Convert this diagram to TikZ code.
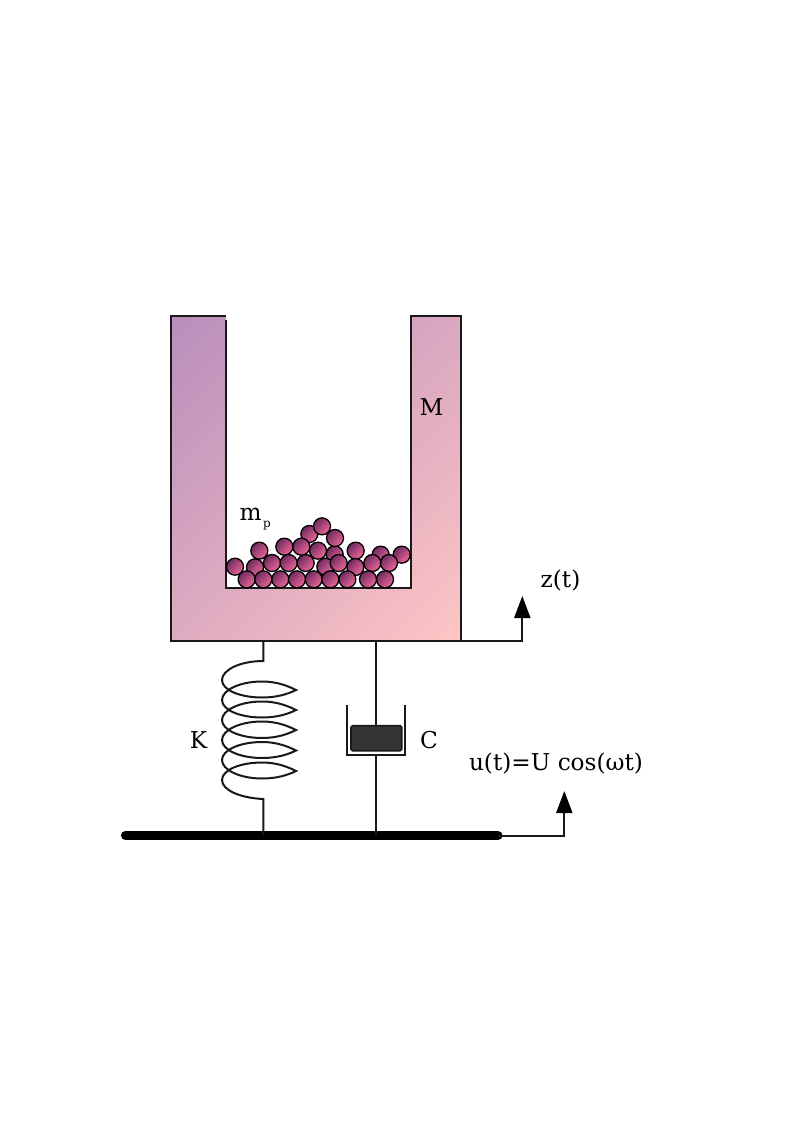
\documentclass[tikz,border=0pt]{standalone}
\usepackage{fontspec}
\setmainfont{DejaVu Serif}
\usetikzlibrary{arrows.meta}
\definecolor{ballA}{HTML}{6E2A5E}
\definecolor{ballB}{HTML}{F0689A}
\definecolor{uA}{HTML}{B88EBB}
\definecolor{uB}{HTML}{FFC5C5}
\definecolor{piston}{HTML}{333333}
\tikzset{
  x=1pt,y=-1pt,
  wire/.style={draw=black!90,line width=2pt},
  lbl/.style={inner sep=0pt,font=\fontsize{23.2pt}{26pt}\selectfont,text=black},
  ball/.style={circle,minimum size=17pt,inner sep=0pt,draw=black,line width=1.3pt,
    top color=ballA,bottom color=ballB,shading angle=45},
  tip/.style={-{Triangle[length=22pt,width=16pt,fill=black,color=black]}}
}
\newcommand{\ballat}[2]{\node[ball] at ({210+#1/3},{500+#2/3}) {};}
\begin{document}
\begin{tikzpicture}
\useasboundingbox (0,0) rectangle (794,1123);
\fill[white] (0,0) rectangle (794,1123);
% container
\begin{scope}
\clip (171,316) -- (226,316) -- (226,588) -- (411,588) -- (411,316) -- (461,316) -- (461,641) -- (171,641) -- cycle;
\node[minimum size=436pt,inner sep=0pt,shade,top color=uA,bottom color=uB,shading angle=45,anchor=center] at (316,478.5) {};
\end{scope}
\coordinate (rightfoot) at (461,641);
\draw[wire,line join=miter] (226,320) -- (226,588) -- (411,588) -- (411,316) -- (461,316) -- (rightfoot) -- (171,641) -- (171,316) -- (226,316);
% balls
\ballat{512}{164}
\ballat{575}{164}
\ballat{374}{163}
\ballat{437}{152}
\ballat{148}{152}
\ballat{375}{114}
\ballat{298}{102}
\ballat{336}{79}
\ballat{223}{140}
\ballat{274}{140}
\ballat{324}{152}
\ballat{75}{200}
\ballat{135}{202}
\ballat{186}{189}
\ballat{236}{189}
\ballat{287}{189}
\ballat{346}{200}
\ballat{386}{189}
\ballat{436}{201}
\ballat{487}{189}
\ballat{537}{189}
\ballat{110}{238}
\ballat{160}{238}
\ballat{211}{238}
\ballat{261}{238}
\ballat{311}{238}
\ballat{361}{238}
\ballat{412}{238}
\ballat{474}{238}
\ballat{525}{238}
% ground
\coordinate (gl) at (125.5,835.5);
\coordinate (gr) at (498,835.5);
\draw[line width=9pt,line cap=round,black] (gl) -- (gr);
% spring
\coordinate (s1) at (263.3,641);
\coordinate (s2) at (263.3,835);
\draw[wire] (s1) -- (263.3,661) .. controls (240,661) and (222,670) .. (222,680)
 .. controls (222,690) and (240,697.5) .. (262,697.5) .. controls (277,697.5) and (288,694) .. (296,690)
 .. controls (288,686) and (277,681.5) .. (262,681.5) .. controls (240,681.5) and (222,690) .. (222,700)
 .. controls (222,710) and (240,717.5) .. (262,717.5) .. controls (277,717.5) and (288,714) .. (296,710)
 .. controls (288,706) and (277,701.5) .. (262,701.5) .. controls (240,701.5) and (222,710) .. (222,720)
 .. controls (222,730) and (240,738) .. (262,738) .. controls (277,738) and (288,734) .. (296,730)
 .. controls (288,726) and (277,721.5) .. (262,721.5) .. controls (240,721.5) and (222,730) .. (222,740)
 .. controls (222,750) and (240,758) .. (262,758) .. controls (277,758) and (288,754.5) .. (296,750.5)
 .. controls (288,746.5) and (277,742) .. (262,742) .. controls (240,742) and (222,750) .. (222,760)
 .. controls (222,770) and (240,778.5) .. (262,778.5) .. controls (277,778.5) and (288,775) .. (296,771)
 .. controls (288,767) and (277,762.5) .. (262,762.5) .. controls (240,762.5) and (222,770) .. (222,780)
 .. controls (222,790) and (240,798) .. (263.3,799) -- (s2);
% damper
\coordinate (d1) at (376.2,641);
\coordinate (d2) at (376.2,835);
\draw[wire] (d1) -- (376.2,726);
\draw[wire] (376.2,755) -- (d2);
\draw[wire] (347.2,705) -- (347.2,754.7) -- (405.4,754.7) -- (405.4,705);
\draw[draw=black!90,line width=1.6pt,fill=piston,rounded corners=1.5pt] (351,725.7) rectangle (401.7,750.7);
% arrows
\draw[wire,tip] (rightfoot) -- (522.3,641) -- (522.3,596);
\draw[wire,tip] (gr) -- (564.3,835.5) -- (564.3,791);
% labels
\node[lbl] (M) at (431.5,407) {M};
\node[lbl] (m) at (250.5,514) {m};
\node[inner sep=0pt,font=\fontsize{12pt}{13pt}\selectfont] (p) at (267,526) {p};
\node[lbl] (K) at (198.5,740) {K};
\node[lbl] (C) at (429,740) {C};
\node[lbl] (z) at (560.5,580) {z(t)};
\node[lbl] (u) at (556,763) {u(t)=U cos(ωt)};
\end{tikzpicture}
\end{document}
